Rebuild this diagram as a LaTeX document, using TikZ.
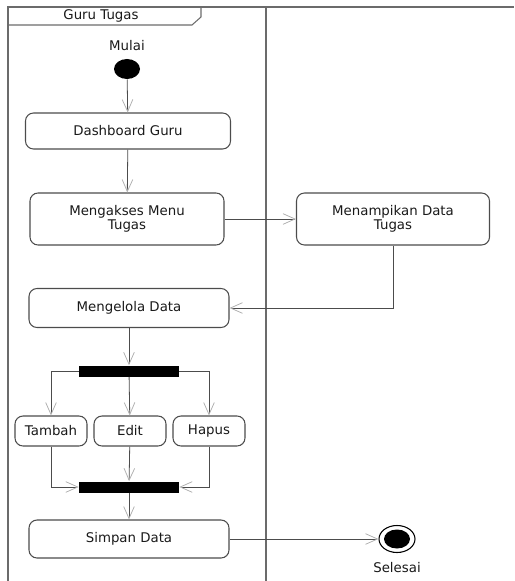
\documentclass[tikz,border=0pt]{standalone}
\usepackage{fontspec}
\setmainfont{DejaVu Sans}
\usepackage{tikz}
\usetikzlibrary{arrows.meta,shapes.geometric}
\definecolor{lanegray}{rgb}{0.42, 0.42, 0.42}
\definecolor{linegray}{rgb}{0.3, 0.3, 0.3}
\definecolor{headgray}{rgb}{0.7, 0.7, 0.7}
\tikzstyle{txt}=[font=\fontsize{10}{9}\selectfont, text=black!90, inner sep=0pt]
\tikzstyle{act}=[txt, rectangle, rounded corners=6pt, draw=linegray, thick, align=center]
\tikzstyle{bar}=[rectangle, fill=black, inner sep=0pt, minimum width=100*0.75pt, minimum height=11*0.75pt]
\tikzstyle{dot}=[ellipse, inner sep=0pt]
\tikzstyle{flow}=[draw=linegray, semithick, -{Straight Barb[length=9pt, width=8pt, color=headgray]}]
\tikzstyle{lane}=[draw=lanegray, thick]

\begin{document}
\begin{tikzpicture}[x=0.75pt, y=-0.75pt]
    \useasboundingbox (0,0) rectangle (514,581);

    % swimlane frame and header tab
    \draw[lane] (8,581) -- (8,7) -- (514,7);
    \draw[lane] (266,7) -- (266,581);
    \draw[lane] (8,25) -- (192,25) -- (201,17) -- (201,7);
    \node[txt] (lanename) at (101,16) {Guru Tugas};

    % start
    \node[txt] (mulai) at (127,46) {Mulai};
    \node[dot, fill=black, minimum width=26*0.75pt, minimum height=20*0.75pt] (start) at (127,69) {};

    % actions
    \node[act, minimum width=205*0.75pt, minimum height=36*0.75pt] (dash) at (128,131) {Dashboard Guru};
    \node[act, minimum width=194*0.75pt, minimum height=52*0.75pt] (akses) at (127,219) {Mengakses Menu\\Tugas};
    \node[act, minimum width=193*0.75pt, minimum height=52*0.75pt] (tampil) at (393,219) {Menampikan Data\\Tugas};
    \node[act, minimum width=200*0.75pt, minimum height=39*0.75pt] (kelola) at (129,308) {Mengelola Data};

    % fork and join bars
    \node[bar] (fork) at (129,371) {};
    \node[bar] (join) at (129,487) {};

    % the three choices, using a loop
    \foreach \name/\x/\label in {tambah/51/Tambah, edit/130/Edit, hapus/209/Hapus}{
      \node[act, minimum width=72*0.75pt, minimum height=30*0.75pt] (\name) at (\x,431) {\label};
    }

    \node[act, minimum width=200*0.75pt, minimum height=38*0.75pt] (simpan) at (129,539) {Simpan Data};

    % end
    \node[dot, draw=black, thick, minimum width=36*0.75pt, minimum height=27*0.75pt] (stop) at (397,539) {};
    \node[dot, fill=black, minimum width=26*0.75pt, minimum height=19*0.75pt] (stopin) at (stop.center) {};
    \node[txt] (selesai) at (397,568) {Selesai};

    % control flow
    \draw[flow] (start) -- (dash);
    \draw[flow] (dash) -- (akses);
    \draw[flow] (akses) -- (tampil);
    \draw[flow] (tampil.south) |- (kelola.east);
    \draw[flow] (kelola) -- (fork);
    \draw[flow] (fork.west) -| (tambah.north);
    \draw[flow] (fork) -- (edit);
    \draw[flow] (fork.east) -| (hapus.north);
    \draw[flow] (tambah.south) |- (join.west);
    \draw[flow] (edit) -- (join);
    \draw[flow] (hapus.south) |- (join.east);
    \draw[flow] (join) -- (simpan);
    \draw[flow] (simpan) -- (stop);

  \end{tikzpicture}
\end{document}
